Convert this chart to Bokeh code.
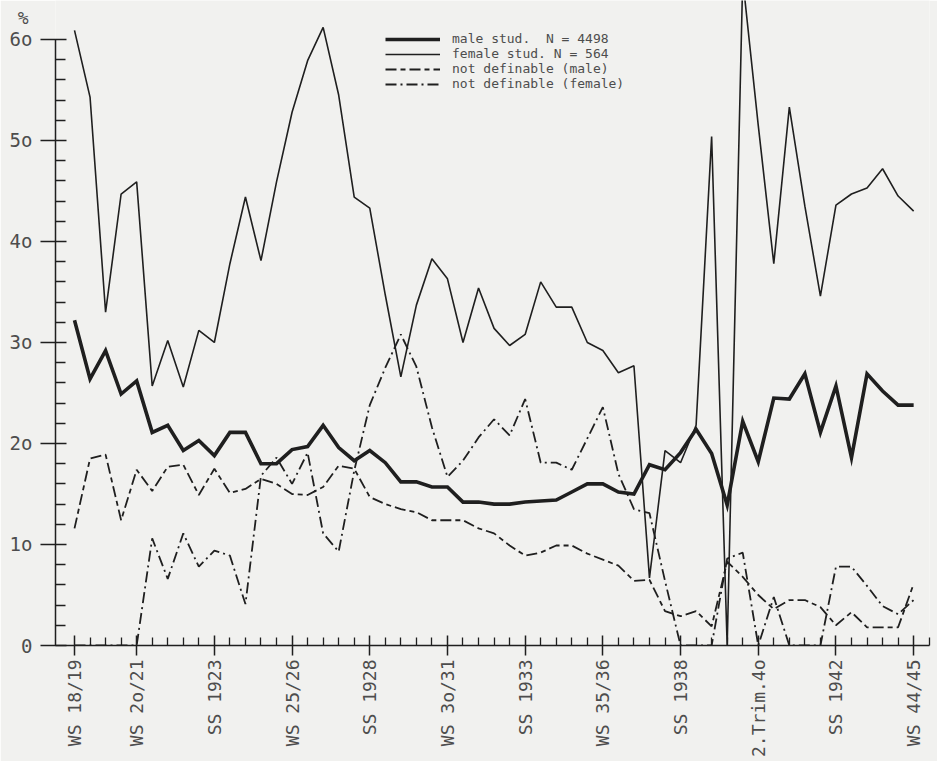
from math import pi
from bokeh.plotting import figure
from bokeh.models import FixedTicker, Range1d, Legend, LegendItem, LinearAxis
from bokeh.embed import file_html
from bokeh.resources import INLINE

# semester index 0 = WS 18/19 ... 54 = WS 44/45
semesters = list(range(55))
tick_positions = [0, 4, 9, 14, 19, 24, 29, 34, 39, 44, 49, 54]
tick_labels = ["WS 18/19", "WS 2o/21", "SS 1923", "WS 25/26", "SS 1928", "WS 3o/31",
               "SS 1933", "WS 35/36", "SS 1938", "2.Trim.4o", "SS 1942", "WS 44/45"]
y_ticks = [0, 10, 20, 30, 40, 50, 60]
y_tick_labels = ["0", "1o", "2o", "3o", "4o", "5o", "6o"]
unit_label = "%"

male = [32.2, 26.4, 29.2, 24.9, 26.2, 21.1, 21.8, 19.3, 20.3, 18.8,
        21.1, 21.1, 18.0, 18.0, 19.4, 19.7, 21.8, 19.6, 18.3, 19.3,
        18.1, 16.2, 16.2, 15.7, 15.7, 14.2, 14.2, 14.0, 14.0, 14.2,
        14.3, 14.4, 15.2, 16.0, 16.0, 15.2, 15.0, 17.9, 17.4, 19.1,
        21.4, 19.0, 13.9, 22.2, 18.2, 24.5, 24.4, 26.9, 21.1, 25.7,
        18.6, 26.9, 25.2, 23.8, 23.8]

female = [60.9, 54.3, 33.0, 44.7, 45.9, 25.7, 30.2, 25.6, 31.2, 30.0,
          37.8, 44.4, 38.1, 45.9, 52.8, 57.9, 61.2, 54.5, 44.4, 43.3,
          34.7, 26.6, 33.7, 38.3, 36.3, 30.0, 35.4, 31.4, 29.7, 30.8,
          36.0, 33.5, 33.5, 30.0, 29.2, 27.0, 27.7, 6.7, 19.3, 18.1,
          21.8, 50.4, 0.0, 66.0, 51.5, 37.8, 53.3, 43.5, 34.6, 43.6,
          44.7, 45.3, 47.2, 44.5, 43.0]

nd_male = [11.6, 18.5, 18.9, 12.4, 17.4, 15.3, 17.7, 17.9, 14.9, 17.5,
           15.1, 15.5, 16.5, 16.0, 15.0, 14.9, 15.7, 17.8, 17.5, 14.7,
           14.0, 13.5, 13.2, 12.4, 12.4, 12.4, 11.6, 11.1, 9.9, 8.9,
           9.2, 9.9, 9.9, 9.1, 8.5, 7.9, 6.4, 6.5, 3.4, 2.9,
           3.4, 1.9, 8.3, 6.8, 5.0, 3.6, 4.5, 4.5, 3.8, 2.0,
           3.3, 1.8, 1.8, 1.8, 6.1]

nd_female = [0.0, 0.0, 0.0, 0.0, 0.0, 10.6, 6.6, 11.1, 7.8, 9.4,
             8.9, 4.1, 16.8, 18.6, 16.0, 19.1, 11.1, 9.3, 17.3, 23.8,
             27.5, 30.8, 27.6, 21.6, 16.7, 18.3, 20.6, 22.4, 20.8, 24.4,
             18.1, 18.1, 17.4, 20.5, 23.6, 17.0, 13.5, 13.1, 6.4, 0.0,
             0.0, 0.0, 8.6, 9.2, 0.0, 4.8, 0.0, 0.0, 0.0, 7.8,
             7.8, 5.9, 3.9, 3.1, 4.5]

series_labels = ["male stud.  N = 4498", "female stud. N = 564",
                 "not definable (male)", "not definable (female)"]

INK = "#1f1f1f"
TXT = "#4d4d4d"
PAPER = "#f1f1ef"
FONT = "DejaVu Sans Mono"

p = figure(width=937, height=761, output_backend="svg", toolbar_location=None,
           x_range=Range1d(-1.223, 55.02), y_range=Range1d(0, 63.86),
           min_border_left=55, min_border_right=8, min_border_top=0,
           min_border_bottom=116)
p.background_fill_color = PAPER
p.border_fill_color = PAPER
p.outline_line_color = None
p.xgrid.visible = False
p.ygrid.visible = False

xa = p.xaxis[0]
xa.ticker = FixedTicker(ticks=tick_positions,
                        minor_ticks=[i for i in range(56) if i not in tick_positions])
xa.major_label_overrides = dict(zip(tick_positions, tick_labels))
xa.major_label_orientation = pi / 2
xa.major_tick_in = 10
xa.major_tick_out = 10
xa.minor_tick_in = 8
xa.minor_tick_out = 0
xa.axis_line_width = 1.5
xa.axis_line_color = INK
xa.major_tick_line_color = INK
xa.minor_tick_line_color = INK
xa.major_tick_line_width = 1.5
xa.minor_tick_line_width = 1.3
xa.major_label_text_font = FONT
xa.major_label_text_font_size = "18px"
xa.major_label_text_color = TXT
xa.major_label_standoff = 4

ya = p.yaxis[0]
ya.bounds = (0, 60)
ya.ticker = FixedTicker(ticks=y_ticks,
                        minor_ticks=[v for v in range(2, 62, 2) if v % 10 != 0])
ya.major_label_overrides = dict(zip(y_ticks, y_tick_labels))
ya.major_tick_in = 11
ya.major_tick_out = 15
ya.minor_tick_in = 10
ya.minor_tick_out = 0
ya.axis_line_width = 1.5
ya.axis_line_color = INK
ya.major_tick_line_color = INK
ya.minor_tick_line_color = INK
ya.major_tick_line_width = 1.5
ya.minor_tick_line_width = 1.3
ya.major_label_text_font = FONT
ya.major_label_text_font_size = "19px"
ya.major_label_text_color = TXT
ya.major_label_standoff = 8

# second, bare left axis that only carries the "%" unit mark above the scale
ua = LinearAxis(ticker=FixedTicker(ticks=[62.2], minor_ticks=[]),
                major_label_overrides={62.2: unit_label})
ua.axis_line_color = None
ua.major_tick_line_color = None
ua.minor_tick_line_color = None
ua.major_tick_in = 0
ua.major_tick_out = 0
ua.major_label_standoff = -22
ua.major_label_text_font = FONT
ua.major_label_text_font_size = "18px"
ua.major_label_text_color = TXT
p.add_layout(ua, "left")

r_male = p.line(semesters, male, line_width=3.6, color=INK, line_join="miter")
r_female = p.line(semesters, female, line_width=1.6, color=INK)
r_ndm = p.line(semesters, nd_male, line_width=1.8, color=INK, line_dash="11 4 5 4")
r_ndf = p.line(semesters, nd_female, line_width=1.8, color=INK, line_dash="11 4 2 4")

# one legend per row so the rows can sit as tightly as in the typed original
legend_rows = [(series_labels[0], r_male, 599), (series_labels[1], r_female, 584),
               (series_labels[2], r_ndm, 569), (series_labels[3], r_ndf, 554)]
for lab, rend, ypos in legend_rows:
    lg = Legend(items=[LegendItem(label=lab, renderers=[rend])], location=(330, ypos))
    lg.glyph_width = 55
    lg.glyph_height = 12
    lg.label_height = 12
    lg.spacing = 0
    lg.padding = 0
    lg.margin = 0
    lg.label_standoff = 12
    lg.border_line_color = None
    lg.background_fill_alpha = 0
    lg.label_text_font = FONT
    lg.label_text_font_size = "13px"
    lg.label_text_color = TXT
    p.add_layout(lg)

open("out.html", "w").write(file_html(p, INLINE))
